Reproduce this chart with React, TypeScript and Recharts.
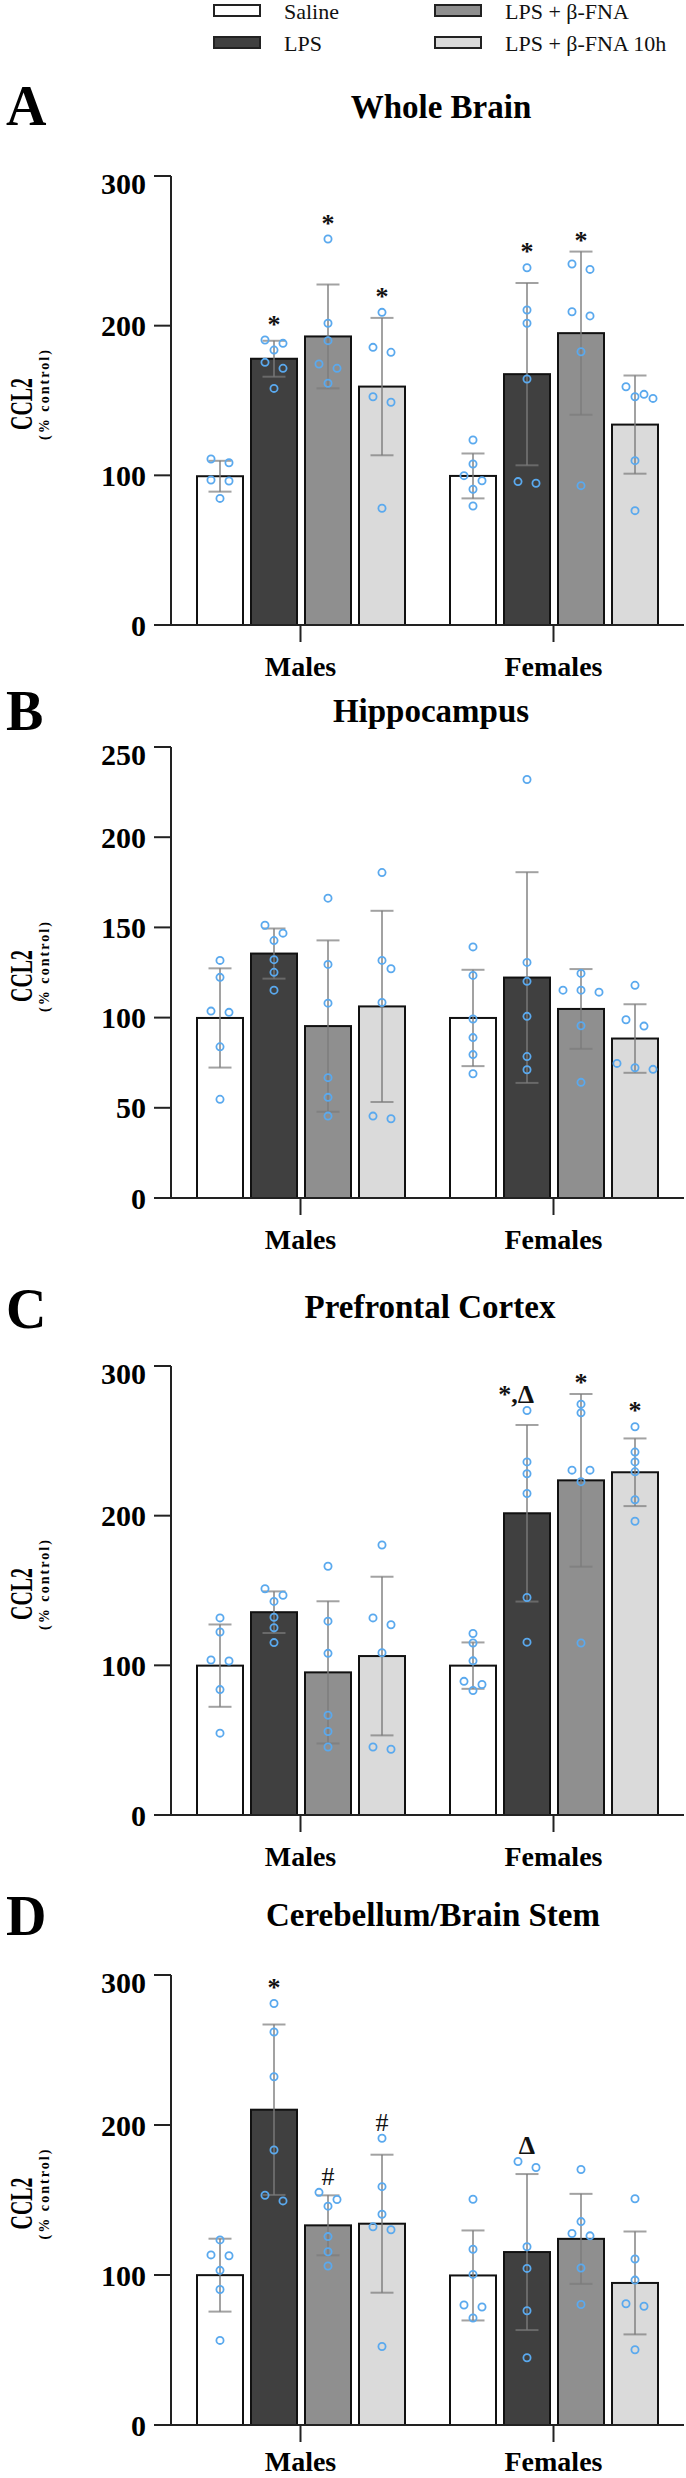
import React from "react";
import { BarChart, Bar, XAxis, YAxis } from "recharts";

const groups = ["Males", "Females"];
const seriesKeys = ["saline", "lps", "fna", "fna10"];
const seriesNames = ["Saline", "LPS", "LPS + β-FNA", "LPS + β-FNA 10h"];
const seriesFill = ["#ffffff", "#404040", "#8f8f8f", "#dadada"];

// A - Whole Brain  (rows: Males, Females; columns: saline, lps, fna, fna10)
const wholeBrainMeans = [
  [99.4, 177.9, 192.8, 159.3],
  [99.6, 167.6, 195.0, 133.9],
];
const wholeBrainSd = [
  [10.3, 12.0, 34.7, 45.9],
  [15.0, 60.9, 54.5, 32.8],
];
const wholeBrainMalesPts = [
  [110.9, 108.4, 96.9, 96.2, 84.6],
  [190.4, 188.2, 183.7, 175.5, 171.5, 158.1],
  [257.9, 201.6, 190.0, 174.4, 171.5, 161.5],
  [208.9, 185.5, 182.2, 152.5, 148.8, 78.0],
];
const wholeBrainFemalesPts = [
  [123.6, 107.6, 99.8, 96.4, 90.7, 79.5],
  [238.7, 210.5, 201.6, 164.4, 95.8, 94.7],
  [241.2, 237.6, 209.3, 206.5, 182.6, 93.1],
  [159.2, 154.1, 152.5, 151.4, 109.8, 76.4],
];
const wholeBrainMarks = [
  ["", "*", "*", "*"],
  ["", "*", "*", ""],
];

// B - Hippocampus
const hippoMeans = [
  [99.8, 135.5, 95.3, 106.2],
  [99.8, 122.2, 104.8, 88.4],
];
const hippoSd = [
  [27.5, 13.9, 47.5, 53.0],
  [26.7, 58.4, 22.1, 19.0],
];
const hippoMalesPts = [
  [131.7, 122.3, 103.6, 102.9, 83.8, 54.7],
  [151.2, 146.8, 142.7, 132.1, 125.1, 115.2],
  [166.2, 129.5, 108.0, 66.7, 55.8, 45.4],
  [180.4, 131.7, 127.1, 108.4, 45.4, 43.9],
];
const hippoFemalesPts = [
  [139.2, 123.4, 99.2, 88.9, 79.5, 68.9],
  [232.0, 130.6, 120.1, 100.7, 78.4, 71.1],
  [124.5, 115.2, 115.2, 114.1, 95.5, 64.1],
  [117.9, 98.8, 95.3, 74.6, 72.2, 71.3],
];
const hippoMarks = [
  ["", "", "", ""],
  ["", "", "", ""],
];

// C - Prefrontal Cortex
const pfcMeans = [
  [99.8, 135.5, 95.3, 106.2],
  [99.8, 201.6, 223.6, 229.0],
];
const pfcSd = [
  [27.5, 13.9, 47.5, 53.0],
  [15.5, 59.0, 57.7, 22.6],
];
const pfcMalesPts = [
  [131.7, 122.3, 103.6, 102.9, 83.8, 54.7],
  [151.2, 146.8, 142.7, 132.1, 125.1, 115.2],
  [166.2, 129.5, 108.0, 66.7, 55.8, 45.4],
  [180.4, 131.7, 127.1, 108.4, 45.4, 43.9],
];
const pfcFemalesPts = [
  [121.3, 114.9, 103.0, 89.3, 87.2, 83.2],
  [270.3, 235.9, 228.0, 214.8, 145.3, 115.5],
  [274.5, 268.7, 230.4, 230.4, 222.7, 114.9],
  [259.4, 242.5, 235.9, 229.3, 210.6, 196.3],
];
const pfcMarks = [
  ["", "", "", ""],
  ["", "*,Δ", "*", "*"],
];

// D - Cerebellum/Brain Stem
const cbMeans = [
  [99.9, 210.2, 133.1, 134.2],
  [99.7, 115.3, 124.1, 94.7],
];
const cbSd = [
  [24.3, 56.8, 20.0, 46.0],
  [30.0, 52.0, 30.0, 34.3],
];
const cbMalesPts = [
  [123.4, 113.4, 112.8, 103.1, 90.3, 56.4],
  [281.0, 262.0, 232.2, 183.3, 153.2, 149.4],
  [155.1, 150.3, 145.9, 125.6, 115.5, 106.0],
  [191.2, 158.9, 140.5, 132.1, 130.2, 52.3],
];
const cbFemalesPts = [
  [150.5, 117.2, 100.4, 80.0, 78.7, 71.3],
  [175.7, 171.7, 118.8, 104.4, 76.2, 44.8],
  [170.3, 135.6, 127.7, 126.1, 104.7, 80.3],
  [150.8, 110.7, 96.6, 80.8, 79.2, 50.2],
];
const cbMarks = [
  ["", "*", "#", "#"],
  ["", "Δ", "", ""],
];

const panels = [
  {
    letter: "A", title: "Whole Brain", yMax: 300, ticks: [0, 100, 200, 300],
    means: wholeBrainMeans, sd: wholeBrainSd, pts: [wholeBrainMalesPts, wholeBrainFemalesPts], marks: wholeBrainMarks,
    plotTop: 176, plotH: 449, titleX: 441, titleY: 118, letterY: 125,
  },
  {
    letter: "B", title: "Hippocampus", yMax: 250, ticks: [0, 50, 100, 150, 200, 250],
    means: hippoMeans, sd: hippoSd, pts: [hippoMalesPts, hippoFemalesPts], marks: hippoMarks,
    plotTop: 747, plotH: 451, titleX: 431, titleY: 722, letterY: 730,
  },
  {
    letter: "C", title: "Prefrontal Cortex", yMax: 300, ticks: [0, 100, 200, 300],
    means: pfcMeans, sd: pfcSd, pts: [pfcMalesPts, pfcFemalesPts], marks: pfcMarks,
    plotTop: 1366, plotH: 449, titleX: 430, titleY: 1318, letterY: 1328,
  },
  {
    letter: "D", title: "Cerebellum/Brain Stem", yMax: 300, ticks: [0, 100, 200, 300],
    means: cbMeans, sd: cbSd, pts: [cbMalesPts, cbFemalesPts], marks: cbMarks,
    plotTop: 1975, plotH: 450, titleX: 433, titleY: 1926, letterY: 1935,
  },
];

const PAGE_H = 2478;
const FONT = "'Liberation Serif', 'Times New Roman', serif";
const AXIS = "#222";
const DOT = "#5aa9ee";
const ERR = "#7a7a7a";
const TOP_PAD = 10;

// GraphPad-like scatter: dots that sit at (nearly) the same height go side by side
function swarm(ys: number[]): number[] {
  const order = ys.map((_, i) => i).sort((a, b) => ys[a] - ys[b]);
  const rows: number[][] = [];
  order.forEach((i) => {
    const row = rows[rows.length - 1];
    if (row && ys[i] - ys[row[0]] < 8) row.push(i);
    else rows.push([i]);
  });
  const dx: number[] = ys.map(() => 0);
  const placed: number[] = [];
  rows.forEach((row) => {
    const n = row.length;
    for (const shift of [0, 9, -9, 18, -18]) {
      const offs = row.map((_, k) => (k - (n - 1) / 2) * 18 + shift);
      const ok = row.every((i, k) =>
        placed.every((j) => Math.hypot(offs[k] - dx[j], ys[i] - ys[j]) >= 8.5)
      );
      if (ok || shift === -18) {
        row.forEach((i, k) => (dx[i] = offs[k]));
        break;
      }
    }
    placed.push(...row);
  });
  return dx;
}

const makeShape = (si: number) => (props: any) => {
  const { x, y, width, height, payload } = props;
  const mean = payload[seriesKeys[si]];
  const base = y + height;
  const toY = (v: number) => base - (v / mean) * height;
  const cx = x + width / 2;
  const sd = payload.sd[si];
  const yHi = toY(mean + sd);
  const yLo = toY(mean - sd);
  const ys: number[] = payload.pts[si].map(toY);
  const dx = swarm(ys);
  const label: string = payload.marks[si];
  const top = Math.min(yHi, ...ys.map((v) => v - 4.5));
  return (
    <g>
      <rect x={x} y={y} width={width} height={height} fill={seriesFill[si]} stroke="#111" strokeWidth={2} />
      <g stroke={ERR} strokeOpacity={0.7} strokeWidth={2}>
        <line x1={cx} x2={cx} y1={yHi} y2={yLo} />
        <line x1={cx - 11.5} x2={cx + 11.5} y1={yHi} y2={yHi} />
        <line x1={cx - 11.5} x2={cx + 11.5} y1={yLo} y2={yLo} />
      </g>
      {ys.map((py, k) => (
        <circle key={k} cx={cx + dx[k]} cy={py} r={3.6} fill="none" stroke={DOT} strokeWidth={1.8} />
      ))}
      {label && (
        <text
          x={label.length > 1 ? cx + 7 : cx}
          y={top - 3}
          textAnchor={label.length > 1 ? "end" : "middle"}
          fontSize={26}
          fontWeight={label === "#" ? 400 : 700}
          fontFamily={FONT}
          fill="#111"
        >
          {label}
        </text>
      )}
    </g>
  );
};

const shapes = seriesKeys.map((_, si) => makeShape(si));

function Panel({ p }: { p: (typeof panels)[number] }) {
  const data = groups.map((g, gi) => {
    const row: any = { sex: g, sd: p.sd[gi], pts: p.pts[gi], marks: p.marks[gi] };
    seriesKeys.forEach((k, si) => (row[k] = p.means[gi][si]));
    return row;
  });
  // room under the plot for the category labels, but never past the page bottom
  const room = PAGE_H - (p.plotTop + p.plotH);
  const xAxisH = Math.min(62, room);
  const tickMargin = Math.min(14, room - 17 - 27);
  return (
    <div style={{ position: "absolute", left: 0, top: p.plotTop - TOP_PAD }}>
      <BarChart
        width={686}
        height={TOP_PAD + p.plotH + xAxisH}
        data={data}
        margin={{ top: TOP_PAD, right: 2, bottom: 0, left: 0 }}
        barSize={46}
        barGap={8}
      >
        <XAxis
          dataKey="sex"
          interval={0}
          height={xAxisH}
          padding={{ left: 3, right: 4 }}
          tickSize={17}
          tickMargin={tickMargin}
          axisLine={{ stroke: AXIS, strokeWidth: 2 }}
          tickLine={{ stroke: AXIS, strokeWidth: 2 }}
          tick={{ fontSize: 28, fontWeight: 700, fill: "#000", fontFamily: FONT }}
        />
        <YAxis
          domain={[0, p.yMax]}
          ticks={p.ticks}
          width={171}
          tickSize={17}
          tickMargin={8}
          allowDataOverflow
          axisLine={{ stroke: AXIS, strokeWidth: 2 }}
          tickLine={{ stroke: AXIS, strokeWidth: 2 }}
          tick={{ fontSize: 30, fontWeight: 700, fill: "#000", fontFamily: FONT }}
        />
        {seriesKeys.map((k, si) => (
          <Bar key={k} dataKey={k} name={seriesNames[si]} shape={shapes[si]} isAnimationActive={false} />
        ))}
      </BarChart>
    </div>
  );
}

export default function App() {
  return (
    <div style={{ position: "absolute", left: 0, top: 0, width: 686, height: PAGE_H, overflow: "hidden", background: "#fff", fontFamily: FONT }}>
      <style>{"body{margin:0;overflow:hidden}"}</style>
      {panels.map((p) => (
        <Panel key={p.letter} p={p} />
      ))}
      <svg width={686} height={PAGE_H} style={{ position: "absolute", left: 0, top: 0, pointerEvents: "none" }} fontFamily={FONT}>
        {seriesNames.map((name, i) => {
          const bx = Math.floor(i / 2) === 0 ? 214 : 435;
          const by = i % 2 === 0 ? 5 : 37;
          return (
            <g key={name}>
              <rect x={bx} y={by} width={46} height={11} fill={seriesFill[i]} stroke="#222" strokeWidth={2} />
              <text x={bx + 70} y={by + 14} fontSize={22} fill="#111">{name}</text>
            </g>
          );
        })}
        {panels.map((p) => {
          const cy = p.plotTop + p.plotH / 2;
          return (
            <g key={p.letter}>
              <text x={6} y={p.letterY} fontSize={56} fontWeight={700} fill="#000">{p.letter}</text>
              <text x={p.titleX} y={p.titleY} fontSize={33} fontWeight={700} textAnchor="middle" fill="#000">{p.title}</text>
              <text
                transform={`translate(32, ${cy + 3.5}) rotate(-90)`}
                fontSize={31}
                fontWeight={700}
                textAnchor="middle"
                textLength={52}
                lengthAdjust="spacingAndGlyphs"
                fill="#000"
              >
                CCL2
              </text>
              <text
                transform={`translate(49, ${cy - 5.5}) rotate(-90)`}
                fontSize={14}
                fontWeight={700}
                textAnchor="middle"
                textLength={90}
                lengthAdjust="spacing"
                fill="#000"
              >
                (% control)
              </text>
            </g>
          );
        })}
      </svg>
    </div>
  );
}
